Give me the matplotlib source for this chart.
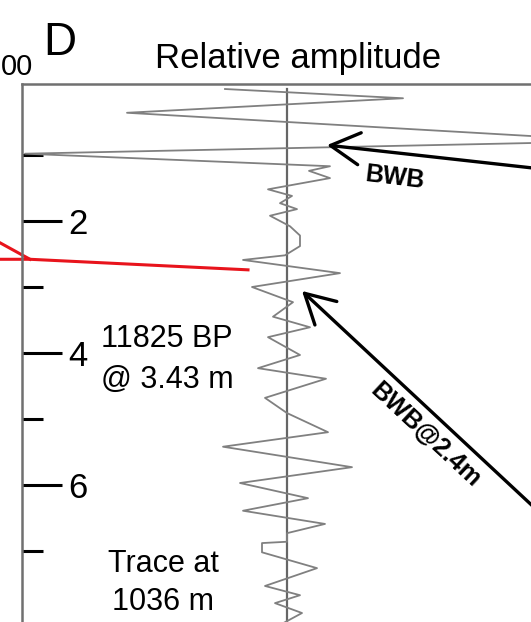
import numpy as np
import matplotlib
matplotlib.use('Agg')
import matplotlib.pyplot as plt

plt.rcParams['font.family'] = ['Liberation Sans', 'DejaVu Sans']

# seismic trace: depth (m) and relative amplitude
depth = np.array([0.0, 0.14, 0.36, 0.79, 0.98, 1.17, 1.24, 1.35, 1.52, 1.62,
                  1.73, 1.82, 1.92, 2.08, 2.22, 2.38, 2.52, 2.59, 2.79, 3.0,
                  3.23, 3.45, 3.61, 3.76, 4.03, 4.23, 4.39, 4.68, 4.91, 5.20,
                  5.42, 5.73, 5.97, 6.20, 6.39, 6.59, 6.73, 6.86, 6.88, 7.02,
                  7.26, 7.53, 7.67, 7.79, 7.94, 8.12])
amp = np.array([-0.62, 1.16, -1.60, 3.33, -2.62, 0.43, 0.22, 0.43, -0.19, 0.05,
                -0.07, 0.10, -0.17, 0.03, 0.13, 0.13, -0.02, -0.44, 0.53, -0.35,
                0.06, -0.14, 0.23, -0.19, 0.13, -0.29, 0.39, -0.22, 0.0, 0.41,
                -0.64, 0.65, -0.47, 0.21, -0.44, 0.38, 0.0, 0.0, -0.25, -0.25,
                0.30, -0.22, 0.13, -0.12, 0.15, -0.07])

# red tie line coming in from the previous panel
red_amp_a = [-2.87, -2.57, -0.39]
red_depth_a = [2.58, 2.58, 2.74]
red_amp_b = [-2.87, -2.57]
red_depth_b = [2.33, 2.58]

major_ticks = [2, 4, 6]
minor_ticks = [1, 3, 5, 7]

fig = plt.figure(figsize=(5.31, 6.22), dpi=100)
ax = fig.add_axes([22/531, 0.0, 1 - 22/531, (622 - 84)/622])
ax.set_xlim(-2.65, 2.44)
ax.set_ylim(8.076, -0.076)

ax.plot([0, 0], [0, 8.2], color='#666666', lw=1.6)
ax.plot(amp, depth, color='#808080', lw=1.3)

ax.plot(red_amp_a, red_depth_a, color='#e8141c', lw=2.2, clip_on=False)
ax.plot(red_amp_b, red_depth_b, color='#e8141c', lw=2.2, clip_on=False)

for s in ['right', 'bottom']:
    ax.spines[s].set_visible(False)
for s in ['left', 'top']:
    ax.spines[s].set_color('#707070')
    ax.spines[s].set_linewidth(1.8)

ax.set_xticks([])
ax.set_yticks(major_ticks)
ax.set_yticks(minor_ticks, minor=True)
ax.set_yticklabels([str(t) for t in major_ticks])
ax.tick_params(axis='y', which='major', direction='in', length=29, width=2.2,
               pad=-33, labelsize=25, color='black')
ax.tick_params(axis='y', which='minor', direction='in', length=15, width=2.2,
               color='black')
for lab in ax.get_yticklabels():
    lab.set_horizontalalignment('left')

ax.text(-1.20, 4.10, '11825 BP\n@ 3.43 m', fontsize=22, ha='center', va='center',
        linespacing=1.45)
ax.text(-1.24, 7.48, 'Trace at\n1036 m', fontsize=22, ha='center', va='center',
        linespacing=1.35)

arrow = dict(arrowstyle='->,head_length=0.6,head_width=0.33', lw=2.4,
             color='black', mutation_scale=35, shrinkA=0, shrinkB=0)
ax.annotate('', xy=(0.40, 0.85), xytext=(3.13, 1.31), arrowprops=arrow,
            annotation_clip=False)
ax.annotate('', xy=(0.15, 3.06), xytext=(3.13, 7.27), arrowprops=arrow,
            annotation_clip=False)
ax.text(1.08, 1.35, 'BWB', fontsize=18, fontweight='bold', rotation=-7,
        ha='center', va='center', rotation_mode='anchor')
ax.text(1.38, 5.24, 'BWB@2.4m', fontsize=18, fontweight='bold', rotation=-43,
        ha='center', va='center', rotation_mode='anchor')

fig.text(298/531, 1 - 68/622, 'Relative amplitude', fontsize=25, ha='center',
         va='baseline')
fig.text(43/531, 1 - 55/622, 'D', fontsize=33, ha='left', va='baseline')
fig.text(1/531, 1 - 75/622, '00', fontsize=21, ha='left', va='baseline')

fig.savefig('out.png', dpi=100)
